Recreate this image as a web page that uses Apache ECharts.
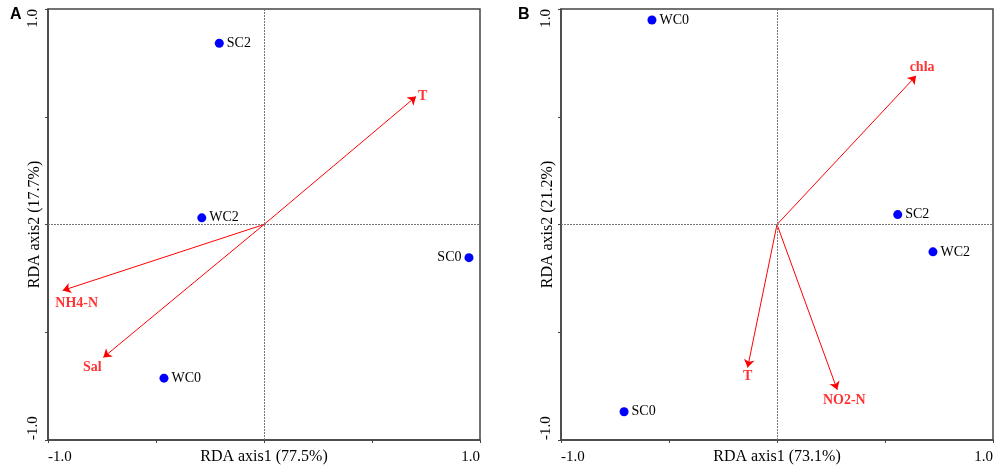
<!DOCTYPE html>
<html>
<head>
<meta charset="utf-8">
<script src="https://cdn.jsdelivr.net/npm/echarts@6/dist/echarts.min.js"></script>
<style>
  html, body { margin: 0; padding: 0; background: #fff; }
  #chart { width: 1000px; height: 471px; }
</style>
</head>
<body>
<div id="chart"></div>
<script>
// panel A: sample scores
const sitesA = ['SC2', 'WC2', 'SC0', 'WC0'];
const sitesAx = [-0.207, -0.288, 0.949, -0.463];
const sitesAy = [0.841, 0.031, -0.154, -0.713];
// panel A: environmental vectors
const envA = ['T', 'NH4-N', 'Sal'];
const envAx = [0.704, -0.932, -0.744];
const envAy = [0.594, -0.306, -0.617];

// panel B
const sitesB = ['WC0', 'SC2', 'WC2', 'SC0'];
const sitesBx = [-0.579, 0.559, 0.722, -0.708];
const sitesBy = [0.949, 0.046, -0.127, -0.869];
const envB = ['chla', 'T', 'NO2-N'];
const envBx = [0.644, -0.136, 0.279];
const envBy = [0.690, -0.664, -0.767];

const axisNamesX = ['RDA axis1 (77.5%)', 'RDA axis1 (73.1%)'];
const axisNamesY = ['RDA axis2 (17.7%)', 'RDA axis2 (21.2%)'];
const tickLabels = ['-1.0', '1.0'];

const serif = '"Liberation Serif", "Times New Roman", serif';

// where each label sits next to its mark
const siteLabelPos = {
    A: { SC2: 'right', WC2: 'right', SC0: 'left', WC0: 'right' },
    B: { WC0: 'right', SC2: 'right', WC2: 'right', SC0: 'right' }
};
const envLabelPos = {
    A: {
        'T': { position: 'right', distance: 2, offset: [0, 0] },
        'NH4-N': { position: 'bottom', distance: 6, offset: [14, 0] },
        'Sal': { position: 'bottom', distance: 3, offset: [-11, 0] }
    },
    B: {
        'chla': { position: 'top', distance: 1, offset: [6, 0] },
        'T': { position: 'bottom', distance: 2, offset: [0, 0] },
        'NO2-N': { position: 'bottom', distance: 4, offset: [7, 0] }
    }
};

function tickText(v) {
    if (v === -1) return tickLabels[0];
    if (v === 1) return tickLabels[1];
    return '';
}

function xAxisFor(i, name) {
    return {
        gridIndex: i, type: 'value', min: -1, max: 1, interval: 0.5,
        name: name, nameLocation: 'middle', nameGap: 9, nameMoveOverlap: false,
        nameTextStyle: { fontFamily: serif, fontSize: 16, color: '#000' },
        axisLine: { onZero: false, lineStyle: { color: '#444', width: 1.5 } },
        axisTick: { length: 3, lineStyle: { color: '#444' } },
        axisLabel: {
            fontFamily: serif, fontSize: 15, color: '#000', margin: 10,
            alignMinLabel: 'left', alignMaxLabel: 'right',
            formatter: tickText
        },
        splitLine: { show: false }
    };
}

function yAxisFor(i, name) {
    return {
        gridIndex: i, type: 'value', min: -1, max: 1, interval: 0.5,
        name: name, nameLocation: 'middle', nameGap: 5, nameMoveOverlap: false,
        nameTextStyle: { fontFamily: serif, fontSize: 16, color: '#000' },
        axisLine: { onZero: false, lineStyle: { color: '#444', width: 1.5 } },
        axisTick: { length: 3, lineStyle: { color: '#444' } },
        axisLabel: {
            fontFamily: serif, fontSize: 15, color: '#000', margin: 7, rotate: 90,
            alignMinLabel: 'left', alignMaxLabel: 'right',
            formatter: tickText
        },
        splitLine: { show: false }
    };
}

function panelSeries(i, key, names, xs, ys, env, ex, ey) {
    let siteData = names.map(function (n, k) {
        return {
            value: [xs[k], ys[k]], name: n,
            label: { position: siteLabelPos[key][n] }
        };
    });
    let arrowData = env.map(function (n, k) {
        return { coords: [[0, 0], [ex[k], ey[k]]] };
    });
    let envData = env.map(function (n, k) {
        let p = envLabelPos[key][n];
        return {
            value: [ex[k], ey[k]], name: n,
            label: { position: p.position, distance: p.distance, offset: p.offset }
        };
    });
    return [
        {
            type: 'scatter', xAxisIndex: i, yAxisIndex: i,
            symbolSize: 9, itemStyle: { color: '#0000ff', opacity: 1 },
            label: {
                show: true, formatter: '{b}', distance: 3,
                fontFamily: serif, fontSize: 14, color: '#000'
            },
            data: siteData,
            markLine: {
                silent: true, symbol: 'none', animation: false,
                lineStyle: { color: '#777', type: [2, 1], width: 1 },
                label: { show: false },
                data: [{ xAxis: 0 }, { yAxis: 0 }]
            },
            z: 3
        },
        {
            type: 'lines', coordinateSystem: 'cartesian2d', xAxisIndex: i, yAxisIndex: i,
            symbol: ['none', 'arrow'], symbolSize: 8,
            lineStyle: { color: '#ff0000', width: 1, opacity: 1 },
            data: arrowData, z: 2
        },
        {
            type: 'scatter', xAxisIndex: i, yAxisIndex: i,
            symbolSize: 0, silent: true,
            label: {
                show: true, formatter: '{b}',
                fontFamily: serif, fontSize: 14, fontWeight: 'bold', color: '#ff0000'
            },
            data: envData, z: 4
        }
    ];
}

let myChart = echarts.init(document.getElementById('chart'));
let titleStyle = { fontFamily: 'Arial, "Liberation Sans", sans-serif', fontSize: 16, fontWeight: 'bold', color: '#000' };
let option = {
    animation: false,
    title: [
        { text: 'A', left: 5, top: 2, textStyle: titleStyle },
        { text: 'B', left: 513, top: 2, textStyle: titleStyle }
    ],
    grid: [
        { left: 48, top: 9, width: 432, height: 431, show: true, borderColor: '#444', borderWidth: 1.5, outerBoundsMode: 'none', containLabel: false },
        { left: 561, top: 9, width: 432, height: 431, show: true, borderColor: '#444', borderWidth: 1.5, outerBoundsMode: 'none', containLabel: false }
    ],
    xAxis: [xAxisFor(0, axisNamesX[0]), xAxisFor(1, axisNamesX[1])],
    yAxis: [yAxisFor(0, axisNamesY[0]), yAxisFor(1, axisNamesY[1])],
    series: panelSeries(0, 'A', sitesA, sitesAx, sitesAy, envA, envAx, envAy)
        .concat(panelSeries(1, 'B', sitesB, sitesBx, sitesBy, envB, envBx, envBy))
};

myChart.setOption(option);
</script>
</body>
</html>
